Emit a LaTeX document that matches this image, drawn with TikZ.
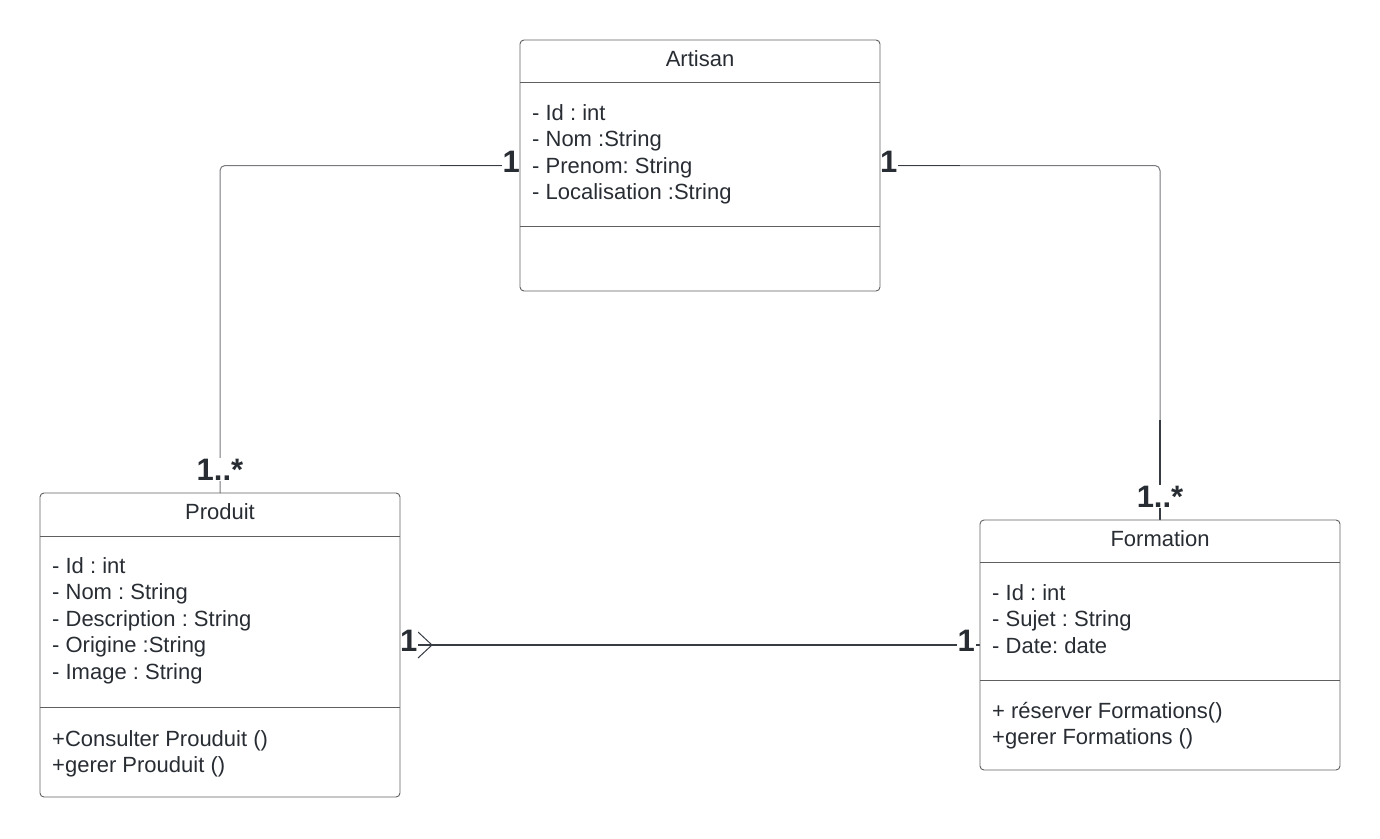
\documentclass[tikz,border=0pt]{standalone}
\usepackage{fontspec}
\setmainfont{Liberation Sans}
\frenchspacing
\definecolor{ink}{RGB}{40,44,51}
\definecolor{frame}{RGB}{95,95,98}
\definecolor{wire}{RGB}{120,120,125}
\definecolor{wiredark}{RGB}{55,60,68}
\begin{document}
\begin{tikzpicture}[x=1pt,y=-1pt,
  classbox/.style={anchor=north west, inner sep=0pt, outer sep=0pt},
  frameline/.style={draw=frame, line width=0.9pt},
  title/.style={font=\fontsize{22}{26}\selectfont, text=ink, anchor=base, inner sep=0pt},
  member/.style={font=\fontsize{22}{26}\selectfont, text=ink, anchor=base west, inner sep=0pt},
  mult/.style={font=\bfseries\fontsize{31}{34}\selectfont, text=ink, fill=white, inner sep=1pt},
  wire/.style={draw=wire, line width=1pt, rounded corners=5pt},
  wirebold/.style={draw=wiredark, line width=1.6pt},
  tip/.style={draw=wiredark, line width=1pt},
]
\useasboundingbox (0,0) rectangle (1380,838);

% class shapes (frames are drawn last, over the connectors)
\node[classbox, minimum width=360pt, minimum height=251pt] (art) at (520,40) {};
\node[classbox, minimum width=360pt, minimum height=304pt] (prod) at (40,493) {};
\node[classbox, minimum width=360pt, minimum height=250pt] (form) at (980,520) {};

% associations
\draw[wire] (art.west) -| (prod.north);
\draw[wire] (art.east) -| (form.north);
\coordinate (lh) at (440,165.5);
\coordinate (rh) at (960,165.5);
\coordinate (rv) at (1160,420);
\draw[wirebold] (lh) -- (art.west);
\draw[wirebold] (art.east) -- (rh);
\draw[wirebold] (rv) -- (form.north);
\draw[wirebold] (prod.east) -- (form.west);
\draw[tip] ([shift={(18,-13)}]prod.east) -- ([shift={(32,0)}]prod.east) -- ([shift={(18,13)}]prod.east);

% multiplicities
\node[mult, anchor=base east] (m1) at (521,172) {1};
\node[mult, anchor=base west] (m2) at (879,172) {1};
\node[mult, anchor=base] (m3) at (220,480) {1..*};
\node[mult, anchor=base] (m4) at (1160,507) {1..*};
\node[mult, anchor=base west] (m5) at (399,651) {1};
\node[mult, anchor=base east] (m6) at (976,651) {1};

% frames and compartments
\foreach \c/\a/\b in {art/82/226, prod/536/707, form/562/680}{
  \draw[frameline, rounded corners=4pt] (\c.north west) rectangle (\c.south east);
  \draw[frameline] (\c.west |- 0,\a) -- (\c.east |- 0,\a);
  \draw[frameline] (\c.west |- 0,\b) -- (\c.east |- 0,\b);
}

% Artisan
\node[title] (art-t) at (700,66) {Artisan};
\foreach \t [count=\i] in {{- Id : int}, {- Nom :String}, {- Prenom: String}, {- Localisation :String}}
  \node[member] (art-a\i) at (532,{120+26.6*(\i-1)}) {\t};

% Produit
\node[title] (prod-t) at (220,519.5) {Produit};
\foreach \t [count=\i] in {{- Id : int}, {- Nom : String}, {- Description : String}, {- Origine :String}, {- Image : String}}
  \node[member] (prod-a\i) at (52,{573+26.6*(\i-1)}) {\t};
\foreach \t [count=\i] in {{+Consulter Prouduit ()}, {+gerer Prouduit ()}}
  \node[member] (prod-m\i) at (52,{746+26.6*(\i-1)}) {\t};

% Formation
\node[title] (form-t) at (1160,546) {Formation};
\foreach \t [count=\i] in {{- Id : int}, {- Sujet : String}, {- Date: date}}
  \node[member] (form-a\i) at (992,{600+26.6*(\i-1)}) {\t};
\foreach \t [count=\i] in {{+ réserver Formations()}, {+gerer Formations ()}}
  \node[member] (form-m\i) at (992,{718+26.6*(\i-1)}) {\t};
\end{tikzpicture}
\end{document}
